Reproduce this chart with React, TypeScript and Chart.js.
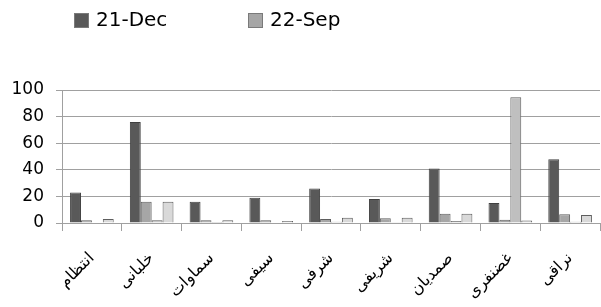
import React, { useEffect, useRef } from 'react';
import { Chart, registerables } from 'chart.js';

Chart.register(...registerables);

const categories = ['انتظام', 'خلبانی', 'سماوات', 'سیفی', 'شرفی', 'شریفی', 'صمدیان', 'غضنفری', 'نراقی'];
const seriesNames = ['21-Dec', '22-Sep', 'Series3', 'Series4'];
const dec21 = [23, 76, 16, 19, 26, 18, 41, 15, 48];
const sep22 = [2, 16, 2, 2, 3, 3.5, 7, 2.5, 6.5];
const series3 = [0, 2, 0.7, 0, 1, 0.5, 1.5, 94.5, 1];
const series4 = [3, 16, 2, 1.5, 4, 4, 7, 1.8, 6];
const yMin = 0;
const yMax = 100;
const yStep = 20;
const legendShown = [0, 1];

const fills = ['#595959', '#a6a6a6', '#bfbfbf', '#d9d9d9'];
const borders = ['#404040', '#5e5e5e', '#5e5e5e', '#5e5e5e'];
const FONT = '"DejaVu Sans", "Liberation Sans", sans-serif';

const legendPlugin = {
  id: 'excelLegend',
  afterDraw(chart: any) {
    const ctx = chart.ctx;
    const xs = [74, 248];
    ctx.save();
    ctx.font = `20px ${FONT}`;
    ctx.textBaseline = 'middle';
    ctx.textAlign = 'left';
    legendShown.forEach((dsIndex, k) => {
      const ds = chart.data.datasets[dsIndex];
      const x = xs[k];
      ctx.fillStyle = ds.backgroundColor;
      ctx.fillRect(x, 13, 15, 15);
      ctx.strokeStyle = '#7a7a7a';
      ctx.lineWidth = 1;
      ctx.strokeRect(x + 0.5, 13.5, 14, 14);
      ctx.fillStyle = '#000';
      ctx.fillText(ds.label, x + 22, 21);
    });
    ctx.restore();
  },
};

export default function App() {
  const ref = useRef<HTMLCanvasElement>(null);
  useEffect(() => {
    document.body.style.margin = '0';
    const values = [dec21, sep22, series3, series4];
    const chart = new Chart(ref.current!, {
      type: 'bar',
      data: {
        labels: categories,
        datasets: values.map((v, i) => ({
          label: seriesNames[i],
          data: v,
          backgroundColor: fills[i],
          borderColor: borders[i],
          borderWidth: 1,
          categoryPercentage: 0.73,
          barPercentage: 1,
        })),
      },
      options: {
        animation: false,
        responsive: false,
        layout: { padding: { top: 90, right: 1, left: 0, bottom: 0 } },
        plugins: {
          legend: { display: false },
          tooltip: { enabled: false },
        },
        scales: {
          x: {
            afterFit: (s: any) => {
              s.height = 84;
              s.paddingLeft = 0;
              s.paddingRight = 0;
            },
            grid: {
              offset: true,
              drawOnChartArea: false,
              drawTicks: true,
              tickLength: 8,
              color: '#a0a0a0',
            },
            border: { display: true, color: '#a0a0a0' },
            ticks: {
              minRotation: 45,
              maxRotation: 45,
              padding: 18,
              labelOffset: 0,
              color: '#000',
              font: { family: FONT, size: 16 },
            },
          },
          y: {
            min: yMin,
            max: yMax,
            afterFit: (s: any) => { s.width = 62; },
            grid: { color: '#a0a0a0', tickLength: 6, drawTicks: true },
            border: { display: true, color: '#a0a0a0' },
            ticks: {
              stepSize: yStep,
              padding: 12,
              color: '#000',
              font: { family: FONT, size: 17 },
            },
          },
        },
      },
      plugins: [legendPlugin],
    });
    return () => chart.destroy();
  }, []);
  return <canvas ref={ref} width={601} height={307} style={{ display: 'block' }} />;
}
